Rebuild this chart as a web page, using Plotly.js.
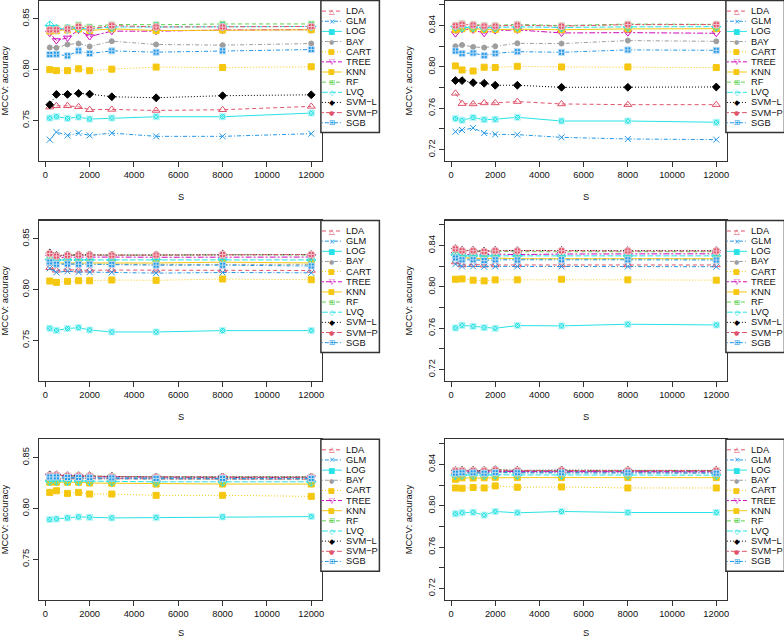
<!DOCTYPE html>
<html><head><meta charset="utf-8">
<script src="https://cdn.plot.ly/plotly-3.0.1.min.js"></script>
<style>html,body{margin:0;padding:0;background:#fff}#chart{width:784px;height:639px}</style>
</head><body><div id="chart"></div>
<script>
// ---------------- data ----------------
const S = [200, 500, 1000, 1500, 2000, 3000, 5000, 8000, 12000];
const methods = ['LDA','GLM','LOG','BAY','CART','TREE','KNN','RF','LVQ','SVM\u2212L','SVM\u2212P','SGB'];
const xTickVals = [0, 2000, 4000, 6000, 8000, 10000, 12000];
const xTickText = ['0','2000','4000','6000','8000','10000','12000'];
const yTickValsLeft = [0.75, 0.80, 0.85];
const yTickTextLeft = ['0.75','0.80','0.85'];
const yTickValsRight = [0.72, 0.74, 0.76, 0.78, 0.80, 0.82, 0.84, 0.86];
const yTickTextRight = ['0.72','','0.76','','0.80','','0.84',''];
const xTitle = 'S';
const yTitle = 'MCCV: accuracy';

// panel 1 (top-left)
const acc1 = [
  [0.7631,0.7644,0.7644,0.7634,0.7605,0.7608,0.7598,0.7605,0.7638],
  [0.7310,0.7385,0.7352,0.7375,0.7352,0.7375,0.7343,0.7343,0.7369],
  [0.7523,0.7536,0.7520,0.7533,0.7513,0.7523,0.7536,0.7536,0.7572],
  [0.8218,0.8215,0.8248,0.8257,0.8228,0.8280,0.8248,0.8241,0.8257],
  [0.8000,0.7990,0.7990,0.8008,0.7990,0.8005,0.8025,0.8021,0.8028],
  [0.8359,0.8287,0.8313,0.8390,0.8326,0.8379,0.8379,0.8390,0.8394],
  [0.8380,0.8383,0.8390,0.8400,0.8385,0.8402,0.8385,0.8390,0.8392],
  [0.8400,0.8410,0.8412,0.8440,0.8420,0.8445,0.8442,0.8450,0.8450],
  [0.8435,0.8400,0.8402,0.8410,0.8400,0.8420,0.8420,0.8425,0.8425],
  [0.7654,0.7756,0.7756,0.7766,0.7759,0.7733,0.7723,0.7743,0.7752],
  [0.8392,0.8392,0.8400,0.8425,0.8402,0.8434,0.8420,0.8420,0.8425],
  [0.8149,0.8152,0.8136,0.8185,0.8159,0.8185,0.8172,0.8185,0.8198]
];
// panel 2 (top-right)
const acc2 = [
  [0.7745,0.7645,0.7642,0.7652,0.7652,0.7665,0.7642,0.7635,0.7635],
  [0.7374,0.7390,0.7410,0.7361,0.7348,0.7345,0.7319,0.7303,0.7297],
  [0.7500,0.7484,0.7510,0.7490,0.7494,0.7513,0.7477,0.7477,0.7465],
  [0.8200,0.8213,0.8194,0.8187,0.8200,0.8229,0.8226,0.8255,0.8248],
  [0.8010,0.7971,0.7961,0.7997,0.7994,0.8006,0.8000,0.8000,0.7994],
  [0.8323,0.8365,0.8358,0.8326,0.8352,0.8358,0.8329,0.8332,0.8326],
  [0.8360,0.8370,0.8368,0.8362,0.8362,0.8365,0.8360,0.8368,0.8370],
  [0.8400,0.8420,0.8412,0.8402,0.8402,0.8412,0.8400,0.8415,0.8412],
  [0.8390,0.8382,0.8385,0.8380,0.8382,0.8388,0.8382,0.8388,0.8390],
  [0.7868,0.7868,0.7848,0.7842,0.7823,0.7823,0.7803,0.7803,0.7806],
  [0.8398,0.8412,0.8405,0.8395,0.8395,0.8405,0.8395,0.8410,0.8410],
  [0.8155,0.8129,0.8135,0.8110,0.8132,0.8148,0.8142,0.8165,0.8161]
];
// panel 3 (middle-left)
const acc3 = [
  [0.8215,0.8190,0.8195,0.8190,0.8190,0.8192,0.8190,0.8190,0.8188],
  [0.8210,0.8170,0.8180,0.8172,0.8172,0.8170,0.8162,0.8168,0.8165],
  [0.7619,0.7599,0.7616,0.7625,0.7602,0.7583,0.7583,0.7596,0.7596],
  [0.8260,0.8250,0.8252,0.8250,0.8250,0.8250,0.8248,0.8250,0.8248],
  [0.8084,0.8071,0.8081,0.8087,0.8087,0.8094,0.8091,0.8104,0.8097],
  [0.8320,0.8310,0.8318,0.8320,0.8320,0.8320,0.8318,0.8322,0.8320],
  [0.8280,0.8262,0.8262,0.8262,0.8262,0.8262,0.8262,0.8270,0.8262],
  [0.8345,0.8335,0.8338,0.8340,0.8340,0.8340,0.8338,0.8342,0.8340],
  [0.8295,0.8290,0.8292,0.8292,0.8292,0.8292,0.8295,0.8298,0.8292],
  [0.8360,0.8335,0.8340,0.8342,0.8342,0.8340,0.8342,0.8348,0.8345],
  [0.8355,0.8330,0.8338,0.8340,0.8340,0.8338,0.8340,0.8345,0.8345],
  [0.8272,0.8250,0.8252,0.8250,0.8250,0.8248,0.8240,0.8240,0.8232]
];
// panel 4 (middle-right)
const acc4 = [
  [0.8240,0.8212,0.8215,0.8210,0.8212,0.8212,0.8212,0.8212,0.8212],
  [0.8220,0.8198,0.8198,0.8195,0.8198,0.8198,0.8198,0.8198,0.8195],
  [0.7603,0.7629,0.7619,0.7606,0.7600,0.7626,0.7623,0.7639,0.7632],
  [0.8282,0.8272,0.8272,0.8268,0.8272,0.8270,0.8272,0.8272,0.8272],
  [0.8074,0.8077,0.8065,0.8058,0.8068,0.8068,0.8074,0.8068,0.8065],
  [0.8318,0.8312,0.8312,0.8310,0.8318,0.8312,0.8318,0.8320,0.8320],
  [0.8290,0.8282,0.8280,0.8272,0.8280,0.8272,0.8272,0.8272,0.8272],
  [0.8350,0.8340,0.8340,0.8338,0.8342,0.8340,0.8342,0.8340,0.8340],
  [0.8310,0.8300,0.8300,0.8298,0.8300,0.8300,0.8300,0.8300,0.8300],
  [0.8370,0.8352,0.8352,0.8345,0.8352,0.8350,0.8352,0.8350,0.8350],
  [0.8368,0.8350,0.8350,0.8342,0.8350,0.8348,0.8350,0.8348,0.8348],
  [0.8280,0.8262,0.8262,0.8255,0.8262,0.8260,0.8262,0.8262,0.8260]
];
// panel 5 (bottom-left)
const acc5 = [
  [0.8295,0.8295,0.8292,0.8292,0.8290,0.8290,0.8288,0.8288,0.8288],
  [0.8300,0.8300,0.8298,0.8298,0.8295,0.8295,0.8292,0.8292,0.8292],
  [0.7891,0.7897,0.7907,0.7917,0.7914,0.7907,0.7910,0.7917,0.7920],
  [0.8290,0.8290,0.8288,0.8288,0.8285,0.8285,0.8283,0.8283,0.8283],
  [0.8158,0.8174,0.8148,0.8158,0.8142,0.8142,0.8129,0.8129,0.8119],
  [0.8322,0.8322,0.8315,0.8315,0.8312,0.8310,0.8305,0.8305,0.8305],
  [0.8258,0.8258,0.8258,0.8258,0.8250,0.8248,0.8240,0.8240,0.8240],
  [0.8325,0.8325,0.8320,0.8320,0.8318,0.8315,0.8310,0.8310,0.8310],
  [0.8270,0.8272,0.8270,0.8270,0.8268,0.8265,0.8262,0.8262,0.8262],
  [0.8330,0.8330,0.8322,0.8322,0.8320,0.8315,0.8310,0.8310,0.8310],
  [0.8325,0.8328,0.8320,0.8320,0.8318,0.8312,0.8308,0.8308,0.8308],
  [0.8310,0.8310,0.8305,0.8305,0.8302,0.8300,0.8295,0.8295,0.8295]
];
// panel 6 (bottom-right)
const acc6 = [
  [0.8330,0.8332,0.8332,0.8330,0.8335,0.8332,0.8332,0.8332,0.8330],
  [0.8325,0.8328,0.8328,0.8325,0.8330,0.8328,0.8328,0.8328,0.8325],
  [0.7922,0.7932,0.7938,0.7910,0.7945,0.7932,0.7945,0.7935,0.7935],
  [0.8318,0.8320,0.8320,0.8318,0.8322,0.8320,0.8320,0.8320,0.8318],
  [0.8172,0.8169,0.8176,0.8172,0.8192,0.8179,0.8182,0.8172,0.8172],
  [0.8328,0.8330,0.8330,0.8328,0.8332,0.8330,0.8330,0.8330,0.8328],
  [0.8256,0.8270,0.8268,0.8270,0.8275,0.8272,0.8272,0.8272,0.8272],
  [0.8338,0.8340,0.8340,0.8338,0.8345,0.8340,0.8342,0.8340,0.8340],
  [0.8295,0.8298,0.8298,0.8296,0.8300,0.8298,0.8298,0.8298,0.8296],
  [0.8340,0.8342,0.8342,0.8340,0.8348,0.8342,0.8345,0.8342,0.8342],
  [0.8338,0.8340,0.8340,0.8338,0.8345,0.8340,0.8342,0.8340,0.8340],
  [0.8315,0.8318,0.8318,0.8315,0.8320,0.8318,0.8318,0.8318,0.8315]
];
const panels = [acc1, acc2, acc3, acc4, acc5, acc6];

// ---------------- styles ----------------
const colors  = ['#DF536B','#2297E6','#28E2E5','#9E9E9E','#F5C710','#CD0BBC','#F5C710','#61D04F','#28E2E5','#000000','#DF536B','#2297E6'];
const symbols = ['triangle-up-open','x-thin-open','square-x','circle','square','triangle-down-open','square','square-cross','diamond-cross-open','diamond','circle-cross','square-cross'];
const symLine = ['#DF536B','#2297E6','#bff6f7','#9E9E9E','#F5C710','#CD0BBC','#F5C710','#d2f2cc','#28E2E5','#000000','#f6c3cc','#b9dcf6'];
const sizes   = [7,6,6,5,6,7,6,6,7,6,7,6];
const dashes  = ['4px,3px','1px,2px,4px,2px','solid','1px,2px,4px,2px','1px,2px','2px,2px,6px,2px','solid','4px,3px','6px,2px','1px,2px','2px,2px,5px,2px','1px,2px,4px,2px'];
const glyphs  = ['\u25B3','\u00D7','\u25A0','\u25CF','\u25A0','\u25BD','\u25A0','\u229E','\u25C7','\u25C6','\u25CF','\u229E'];

// ---------------- layout geometry (px) ----------------
const W = 784, H = 639;
const cols = [{x0: 39.3, x1: 321.7}, {x0: 445, x1: 726.7}];
const rows = [{top: 0.6, bot: 161, sGap: 36}, {top: 220.5, bot: 381, sGap: 35.7}, {top: 439.3, bot: 600, sGap: 33}];
const FONT = 'Liberation Sans, Arial, Helvetica, sans-serif';
const FS = 9.3;
const px = v => v / W, py = v => 1 - v / H;

const data = [];
const layout = {
  width: W, height: H, margin: {l: 0, r: 0, t: 0, b: 0},
  paper_bgcolor: '#fff', plot_bgcolor: '#fff', showlegend: false,
  font: {family: FONT, size: FS, color: '#111'},
  shapes: [], annotations: []
};

panels.forEach((acc, p) => {
  const r = Math.floor(p / 2), c = p % 2;
  const k = p === 0 ? '' : String(p + 1);
  const isRight = c === 1;
  acc.forEach((vals, i) => {
    data.push({
      type: 'scatter', mode: 'lines+markers', x: S, y: vals, name: methods[i],
      xaxis: 'x' + k, yaxis: 'y' + k, hoverinfo: 'x+y+name',
      line: {color: colors[i], width: 1, dash: dashes[i]},
      marker: {symbol: symbols[i], size: sizes[i], color: colors[i],
               line: {color: symLine[i], width: 1}}
    });
  });
  const axLine = {showline: true, mirror: true, linecolor: '#333', linewidth: 1.3,
                  showgrid: false, zeroline: false, automargin: false,
                  ticks: 'outside', ticklen: 5, tickwidth: 1, tickcolor: '#333',
                  tickfont: {family: FONT, size: FS, color: '#111'}};
  layout['xaxis' + k] = Object.assign({}, axLine, {
    domain: [px(cols[c].x0), px(cols[c].x1)], anchor: 'y' + k,
    range: [-272, 12472], tickmode: 'array', tickvals: xTickVals, ticktext: xTickText
  });
  layout['yaxis' + k] = Object.assign({}, axLine, {
    domain: [py(rows[r].bot), py(rows[r].top)], anchor: 'x' + k,
    range: isRight ? [0.709, 0.8642] : [0.7100, 0.8680],
    tickmode: 'array',
    tickvals: isRight ? yTickValsRight : yTickValsLeft,
    ticktext: isRight ? yTickTextRight : yTickTextLeft,
    tickangle: -90,
    title: {text: yTitle, font: {family: FONT, size: FS, color: '#111'}, standoff: 12}
  });
  // x-axis title "S", placed below the axis
  layout.annotations.push({xref: 'paper', yref: 'paper',
    x: px((cols[c].x0 + cols[c].x1) / 2), y: py(rows[r].bot + rows[r].sGap),
    text: xTitle, showarrow: false, xanchor: 'center', yanchor: 'middle',
    font: {family: FONT, size: FS, color: '#111'}});

  // legend box (drawn from the method/style arrays)
  const lx0 = cols[c].x1 - 0.8, lx1 = lx0 + 58.5;
  const ly0 = rows[r].top, ly1 = ly0 + 132;
  layout.shapes.push({type: 'rect', xref: 'paper', yref: 'paper',
    x0: px(lx0), x1: px(lx1), y0: py(ly0), y1: py(ly1),
    line: {color: '#333', width: 1.5}, fillcolor: '#fff', layer: 'above'});
  methods.forEach((m, i) => {
    const yy = ly0 + 10.5 + i * 10.15;
    layout.shapes.push({type: 'line', xref: 'paper', yref: 'paper',
      x0: px(lx0 + 1), x1: px(lx0 + 21), y0: py(yy), y1: py(yy),
      line: {color: colors[i], width: 1, dash: dashes[i]}, layer: 'above'});
    layout.annotations.push({xref: 'paper', yref: 'paper', x: px(lx0 + 11), y: py(yy),
      text: glyphs[i], showarrow: false, xanchor: 'center', yanchor: 'middle',
      font: {family: 'DejaVu Sans', size: (i === 3 || i === 10) ? 6 : 7.5, color: colors[i]}, borderpad: 0});
    layout.annotations.push({xref: 'paper', yref: 'paper', x: px(lx0 + 24), y: py(yy),
      text: m, showarrow: false, xanchor: 'left', yanchor: 'middle',
      font: {family: FONT, size: FS, color: '#111'}, borderpad: 0});
  });
});

Plotly.newPlot('chart', data, layout, {displayModeBar: false, staticPlot: true});
</script>
</body></html>
